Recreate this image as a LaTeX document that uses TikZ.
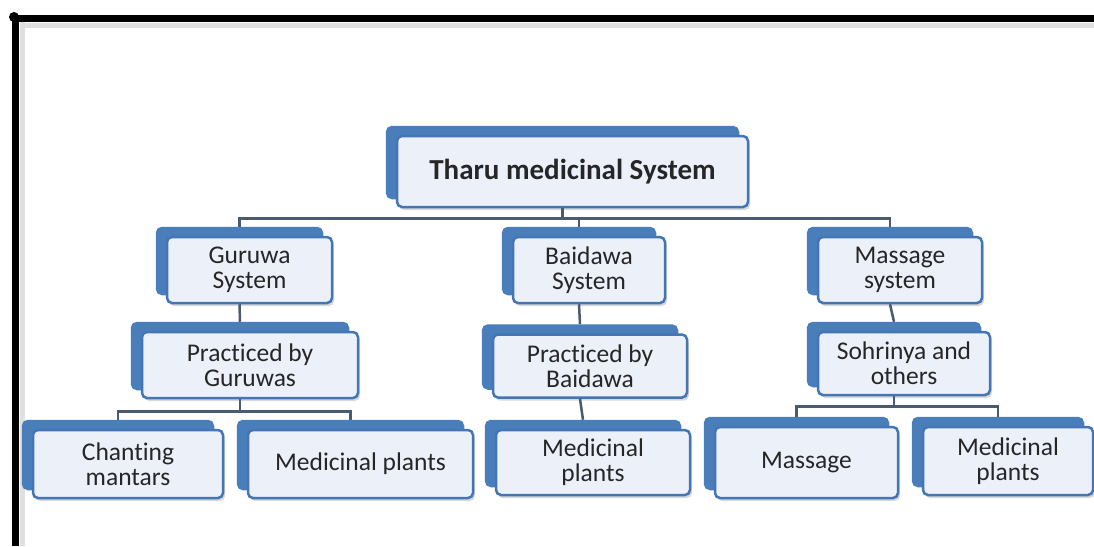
\documentclass[tikz,border=0pt]{standalone}
\usepackage{fontspec}
\setmainfont{Carlito}[Ligatures=NoCommon]
\usetikzlibrary{shadows}
\definecolor{boxblue}{HTML}{4A7EBB}
\definecolor{boxline}{HTML}{4475B4}
\definecolor{boxfront}{HTML}{EBF0F9}
\definecolor{linkgrey}{HTML}{4A5A70}
\definecolor{textgrey}{HTML}{262626}
\tikzset{
  box/.style={rectangle, rounded corners=5pt, draw=boxline, line width=2.5pt,
    fill=boxfront, align=center, text=textgrey, inner sep=0pt,
    font=\fontsize{25.5}{25}\selectfont,
    copy shadow={shadow xshift=-10pt, shadow yshift=9pt, fill=boxblue, draw=boxblue},
    drop shadow={shadow xshift=2pt, shadow yshift=-3pt, opacity=0.3}},
  link/.style={draw=linkgrey, line width=2.5pt}
}
\begin{document}
\begin{tikzpicture}[x=1pt, y=-1pt]
 	\useasboundingbox (0,0) rectangle (1094,546);
 	\fill [white] (0,0) rectangle (1094,546);
 	\draw [black!12, line width=5pt] (20,25) -- (1094,25);
 	\draw [black!12, line width=5pt] (22,22) -- (22,546);
 	\draw [black, line width=7pt] (12,18) -- (1094,18);
 	\draw [black, line width=7pt] (15,15) -- (15,546);
 	\fill [black] (14,17) circle (5);
 	\node [box, font=\fontsize{29}{29}\selectfont\bfseries, minimum width=351pt, minimum height=71pt] (root) at (572.5,171.5) {Tharu medicinal System};
 	\node [box, minimum width=165pt, minimum height=66pt] (guru) at (249.5,270) {Guruwa\\System};
 	\node [box, minimum width=152pt, minimum height=66pt] (baid) at (589,270) {Baidawa\\System};
 	\node [box, minimum width=164pt, minimum height=66pt] (mass) at (900,270) {Massage\\system};
 	\node [box, minimum width=216pt, minimum height=66pt] (pguru) at (250,365) {Practiced by\\Guruwas};
 	\node [box, minimum width=194pt, minimum height=63pt] (pbaid) at (590,366) {Practiced by\\Baidawa};
 	\node [box, minimum width=172pt, minimum height=63pt] (sohr) at (904,363.5) {Sohrinya and\\others};
 	\node [box, minimum width=190pt, minimum height=68pt] (chant) at (128,464) {Chanting\\mantars};
 	\node [box, minimum width=225pt, minimum height=68pt] (medl) at (360.5,464) {Medicinal plants};
 	\node [box, minimum width=194pt, minimum height=65pt] (medm) at (593,462.5) {Medicinal\\plants};
 	\node [box, minimum width=183pt, minimum height=71pt] (massg) at (806.5,462.5) {Massage};
 	\node [box, minimum width=170pt, minimum height=68pt] (medr) at (1008,461) {Medicinal\\plants};
 	\draw [link] ([xshift=-10pt]root.south) -- ++(0,10) coordinate (top);
 	\draw [link] ([xshift=-10pt,yshift=9pt]guru.north) |- (top) -| ([xshift=-10pt,yshift=9pt]mass.north);
 	\draw [link] (top) -| ([xshift=-10pt,yshift=9pt]baid.north);
 	\draw [link] ([xshift=-10pt]guru.south) -- ([xshift=-10pt,yshift=9pt]pguru.north);
 	\draw [link] ([xshift=-10pt]baid.south) -- ([xshift=-10pt,yshift=9pt]pbaid.north);
 	\draw [link] ([xshift=-10pt]mass.south) -- ([xshift=-10pt,yshift=9pt]sohr.north);
 	\draw [link] ([xshift=-10pt]pguru.south) -- ++(0,12) coordinate (gmid);
 	\draw [link] ([xshift=-10pt,yshift=9pt]chant.north) |- (gmid) -| ([xshift=-10pt,yshift=9pt]medl.north);
 	\draw [link] ([xshift=-10pt]pbaid.south) -- ([xshift=-10pt,yshift=9pt]medm.north);
 	\draw [link] ([xshift=-10pt]sohr.south) -- ++(0,10) coordinate (smid);
 	\draw [link] ([xshift=-10pt,yshift=9pt]massg.north) |- (smid) -| ([xshift=-10pt,yshift=9pt]medr.north);
 	\end{tikzpicture}
\end{document}
